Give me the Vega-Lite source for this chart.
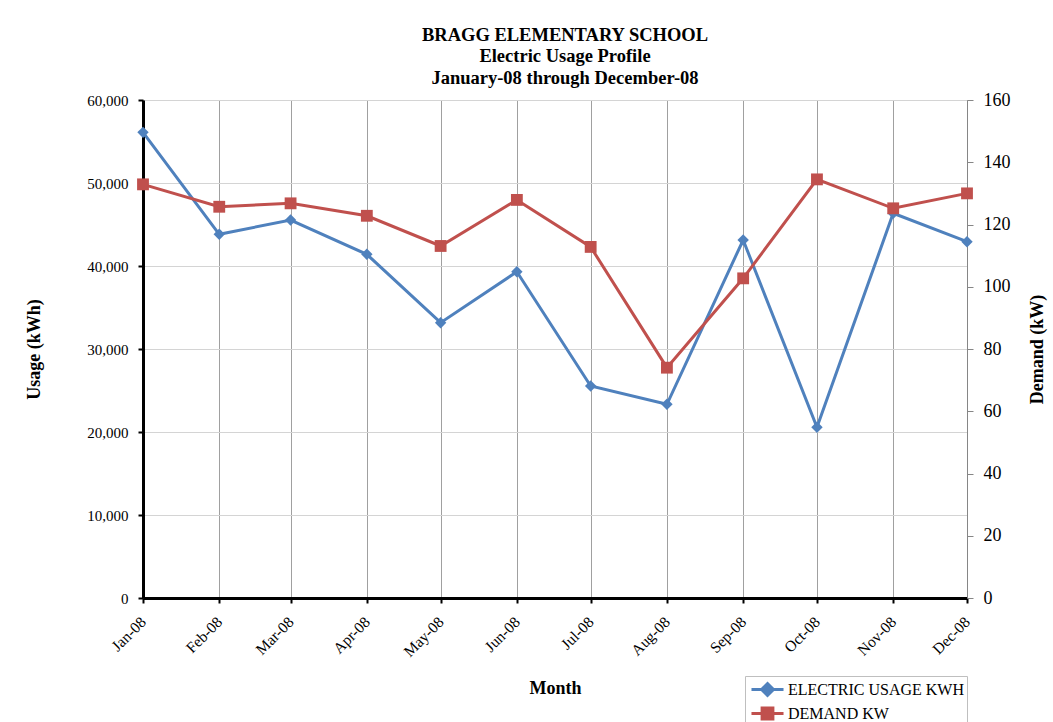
{
  "$schema": "https://vega.github.io/schema/vega-lite/v6.json",
  "width": 824,
  "height": 498,
  "autosize": {"type": "none"},
  "padding": {"left": 143, "top": 100, "right": 86, "bottom": 124},
  "background": "white",
  "title": {
    "text": ["BRAGG ELEMENTARY SCHOOL", "Electric Usage Profile", "January-08 through December-08"],
    "font": "Liberation Serif",
    "fontSize": 18.5,
    "fontWeight": "bold",
    "color": "black",
    "lineHeight": 21.5,
    "anchor": "middle",
    "frame": "group",
    "dx": 10,
    "offset": 4
  },
  "data": {
    "values": [
      {"month": "2008-01-01", "usage": 56100, "demand": 132.9},
      {"month": "2008-02-01", "usage": 43820, "demand": 125.7},
      {"month": "2008-03-01", "usage": 45540, "demand": 126.8},
      {"month": "2008-04-01", "usage": 41410, "demand": 122.8},
      {"month": "2008-05-01", "usage": 33170, "demand": 113.1},
      {"month": "2008-06-01", "usage": 39310, "demand": 127.9},
      {"month": "2008-07-01", "usage": 25540, "demand": 112.8},
      {"month": "2008-08-01", "usage": 23340, "demand": 74.0},
      {"month": "2008-09-01", "usage": 43130, "demand": 102.7},
      {"month": "2008-10-01", "usage": 20570, "demand": 134.5},
      {"month": "2008-11-01", "usage": 46350, "demand": 125.2},
      {"month": "2008-12-01", "usage": 42930, "demand": 130.0}
    ]
  },
  "encoding": {
    "x": {
      "field": "month",
      "type": "temporal",
      "scale": {
        "type": "utc",
        "domain": [
          {"year": 2008, "month": 1, "date": 1, "utc": true},
          {"year": 2008, "month": 12, "date": 1, "utc": true}
        ]
      },
      "axis": {
        "title": "Month",
        "labelExpr": "utcFormat(datum.value, '%b-%y')",
        "values": [
          {"year": 2008, "month": 1, "date": 1, "utc": true},
          {"year": 2008, "month": 2, "date": 1, "utc": true},
          {"year": 2008, "month": 3, "date": 1, "utc": true},
          {"year": 2008, "month": 4, "date": 1, "utc": true},
          {"year": 2008, "month": 5, "date": 1, "utc": true},
          {"year": 2008, "month": 6, "date": 1, "utc": true},
          {"year": 2008, "month": 7, "date": 1, "utc": true},
          {"year": 2008, "month": 8, "date": 1, "utc": true},
          {"year": 2008, "month": 9, "date": 1, "utc": true},
          {"year": 2008, "month": 10, "date": 1, "utc": true},
          {"year": 2008, "month": 11, "date": 1, "utc": true},
          {"year": 2008, "month": 12, "date": 1, "utc": true}
        ],
        "labelAngle": -45,
        "labelAlign": "right",
        "labelBaseline": "middle",
        "labelPadding": 16,
        "labelFont": "Liberation Serif",
        "labelFontSize": 15.5,
        "labelColor": "black",
        "labelOverlap": false,
        "labelFlush": false,
        "domainColor": "black",
        "domainWidth": 3,
        "tickColor": "black",
        "tickWidth": 2,
        "tickSize": 5,
        "grid": true,
        "gridColor": "#a0a0a0",
        "gridWidth": 1,
        "titleFont": "Liberation Serif",
        "titleFontSize": 18,
        "titleFontWeight": "bold",
        "titleColor": "black",
        "titlePadding": 20
      }
    },
    "color": {
      "datum": "ELECTRIC USAGE KWH",
      "scale": {
        "domain": ["ELECTRIC USAGE KWH", "DEMAND KW"],
        "range": ["#4f81bd", "#c0504d"]
      },
      "legend": {
        "title": null,
        "orient": "none",
        "legendX": 602,
        "legendY": 576,
        "padding": 3,
        "strokeColor": "#bfbfbf",
        "fillColor": "white",
        "symbolSize": 324,
        "symbolOffset": 9,
        "labelOffset": 10,
        "rowPadding": 0,
        "labelFont": "Liberation Serif",
        "labelFontSize": 16,
        "labelColor": "black",
        "labelLimit": 300,
        "encode": {
          "symbols": {
            "update": {
              "shape": {"signal": "datum.value === 'DEMAND KW' ? 'M-1.78,0H1.78M-0.6,-0.6H0.6V0.6H-0.6Z' : 'M-1.78,0H1.78M0,-0.66L0.66,0L0,0.66L-0.66,0Z'"},
              "fill": {"signal": "datum.value === 'DEMAND KW' ? '#c0504d' : '#4f81bd'"},
              "stroke": {"signal": "datum.value === 'DEMAND KW' ? '#c0504d' : '#4f81bd'"},
              "strokeWidth": {"value": 3},
              "opacity": {"value": 1}
            }
          }
        }
      }
    }
  },
  "layer": [
    {
      "encoding": {
        "y": {
          "field": "usage",
          "type": "quantitative",
          "scale": {"domain": [0, 60000]},
          "axis": {
            "orient": "left",
            "title": "Usage (kWh)",
            "labelExpr": "format(datum.value, ',')",
            "values": [0, 10000, 20000, 30000, 40000, 50000, 60000],
            "labelFont": "Liberation Serif",
            "labelFontSize": 15,
            "labelColor": "black",
            "labelPadding": 10,
            "domainColor": "black",
            "domainWidth": 3,
            "tickColor": "black",
            "tickWidth": 2,
            "tickSize": 5,
            "grid": true,
            "gridColor": "#d4d4d4",
            "gridWidth": 1,
            "titleFont": "Liberation Serif",
            "titleFontSize": 18,
            "titleFontWeight": "bold",
            "titleColor": "black",
            "titlePadding": 43
          }
        }
      },
      "layer": [
        {"mark": {"type": "line", "strokeWidth": 3}},
        {"mark": {"type": "point", "shape": "diamond", "filled": true, "opacity": 1, "size": 130}}
      ]
    },
    {
      "encoding": {
        "y": {
          "field": "demand",
          "type": "quantitative",
          "scale": {"domain": [0, 160]},
          "axis": {
            "orient": "right",
            "title": "Demand (kW)",
            "titleAngle": 270,
            "values": [0, 20, 40, 60, 80, 100, 120, 140, 160],
            "labelFont": "Liberation Serif",
            "labelFontSize": 18,
            "labelColor": "black",
            "labelPadding": 10,
            "domainColor": "#868686",
            "domainWidth": 1,
            "tickColor": "#868686",
            "tickSize": 6,
            "grid": false,
            "titleFont": "Liberation Serif",
            "titleFontSize": 18,
            "titleFontWeight": "bold",
            "titleColor": "black",
            "titlePadding": 36
          }
        },
        "color": {"datum": "DEMAND KW"}
      },
      "layer": [
        {"mark": {"type": "line", "strokeWidth": 3}},
        {"mark": {"type": "point", "shape": "square", "filled": true, "opacity": 1, "size": 140}}
      ]
    }
  ],
  "resolve": {"scale": {"y": "independent"}},
  "config": {
    "view": {"stroke": "#868686", "strokeWidth": 1}
  }
}
